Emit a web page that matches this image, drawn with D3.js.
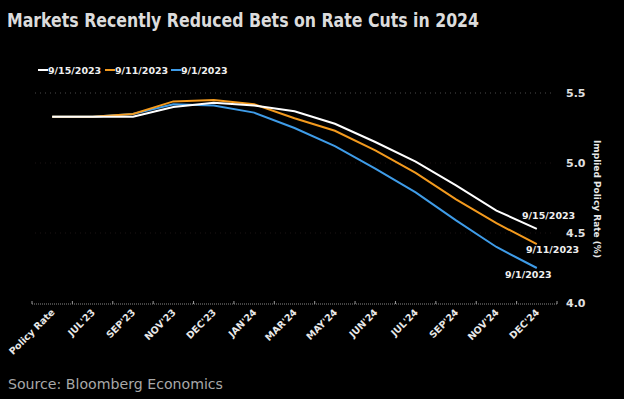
<!DOCTYPE html>
<html><head><meta charset="utf-8">
<script src="https://cdn.jsdelivr.net/npm/d3@7"></script>
<style>
html,body{margin:0;padding:0;background:#000;}
svg{display:block;}
text{font-family:"DejaVu Sans",Verdana,sans-serif;}
</style></head>
<body>
<svg id="c" width="624" height="399"></svg>
<script>
const categories = ["Policy Rate","JUL'23","SEP'23","NOV'23","DEC'23","JAN'24","MAR'24","MAY'24","JUN'24","JUL'24","SEP'24","NOV'24","DEC'24"];
const s0915 = [5.33,5.33,5.33,5.40,5.43,5.41,5.37,5.28,5.15,5.01,4.84,4.66,4.53];
const s0911 = [5.33,5.33,5.35,5.44,5.45,5.42,5.32,5.23,5.09,4.93,4.74,4.57,4.42];
const s0901 = [5.33,5.33,5.35,5.42,5.41,5.36,5.25,5.12,4.96,4.79,4.59,4.40,4.25];
const seriesNames = ["9/15/2023","9/11/2023","9/1/2023"];
const yTicks = [4.0,4.5,5.0,5.5];
const colors = ["#ffffff","#f39a1e","#3f9ce8"];

const svg = d3.select("#c");
svg.append("rect").attr("width",624).attr("height",399).attr("fill","#000");

const x = d3.scaleBand().domain(categories).range([32,557]);
const y = d3.scaleLinear().domain([4.0,5.5]).range([303,93]);

// title
svg.append("text").attr("x",7).attr("y",27)
  .attr("font-size",19).attr("font-weight","bold").attr("fill","#dcdcdc")
  .attr("textLength",472).attr("lengthAdjust","spacingAndGlyphs")
  .text("Markets Recently Reduced Bets on Rate Cuts in 2024");

// gridlines
svg.append("g").selectAll("line").data(yTicks.filter(d=>d>4)).join("line")
  .attr("x1",35).attr("x2",553).attr("y1",d=>y(d)).attr("y2",d=>y(d))
  .attr("stroke",d=>d===5.5?"#4a4a4a":"#1c1414").attr("stroke-dasharray","1,4");

// x axis
const xa = svg.append("g").attr("transform","translate(0,304)");
xa.append("line").attr("x1",32).attr("x2",557).attr("stroke","#888").attr("stroke-dasharray","1,1");
const bounds = categories.map(c=>x(c)).concat([x.range()[1]]);
xa.selectAll("line.t").data(bounds).join("line").attr("class","t")
  .attr("x1",d=>d).attr("x2",d=>d).attr("y1",0).attr("y2",-3).attr("stroke","#999");
xa.selectAll("text").data(categories).join("text")
  .attr("transform",d=>`translate(${x(d)+x.bandwidth()/2+3},${9}) rotate(-45)`)
  .attr("text-anchor","end").attr("font-size",9.5).attr("font-weight","bold").attr("fill","#e8e8e8")
  .text(d=>d);

// y axis labels right
svg.append("g").selectAll("text").data(yTicks).join("text")
  .attr("x",566).attr("y",d=>y(d)+4).attr("font-size",11).attr("font-weight","bold").attr("fill","#e0e0e0")
  .text(d=>d.toFixed(1));
svg.append("text").attr("transform","translate(594,199) rotate(90)")
  .attr("text-anchor","middle").attr("font-size",9.5).attr("font-weight","bold").attr("fill","#e8e8e8")
  .attr("textLength",118).attr("lengthAdjust","spacingAndGlyphs")
  .text("Implied Policy Rate (%)");

// lines
const line = d3.line().x((d,i)=>x(categories[i])+x.bandwidth()/2).y(d=>y(d));
const allSeries = [s0901,s0911,s0915];
const order = [2,1,0];
allSeries.forEach((s,k)=>{
  const idx = order[k];
  svg.append("path").datum(s).attr("d",line).attr("fill","none")
    .attr("stroke",colors[idx]).attr("stroke-width",2);
});

// end labels
const endPos = [[522,219],[526,253],[505,278]];
seriesNames.forEach((n,i)=>{
  svg.append("text").attr("x",endPos[i][0]).attr("y",endPos[i][1])
    .attr("font-size",9.5).attr("font-weight","bold").attr("fill","#f0f0f0").text(n);
});

// legend
const legX = [38,105,171];
seriesNames.forEach((n,i)=>{
  svg.append("line").attr("x1",legX[i]).attr("x2",legX[i]+10).attr("y1",70).attr("y2",70)
    .attr("stroke",colors[i]).attr("stroke-width",2);
  svg.append("text").attr("x",legX[i]+10).attr("y",74).attr("font-size",9.5).attr("font-weight","bold")
    .attr("fill","#f0f0f0").text(n);
});

// source
svg.append("text").attr("x",8).attr("y",389).attr("font-size",14).attr("fill","#a8a8a8")
  .attr("textLength",215).attr("lengthAdjust","spacingAndGlyphs")
  .text("Source: Bloomberg Economics");
</script>
</body></html>
